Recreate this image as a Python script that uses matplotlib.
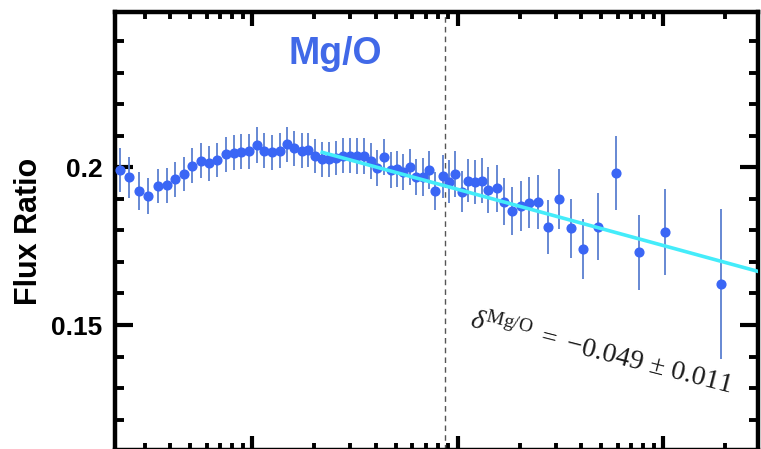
import numpy as np
import matplotlib
matplotlib.use("Agg")
import matplotlib.pyplot as plt
from matplotlib.ticker import LogLocator, MultipleLocator, NullFormatter, FixedLocator

# ---- data (rigidity in GV, Mg/O flux ratio, error) ----
rigidity = [2.27, 2.52, 2.81, 3.12, 3.47, 3.83, 4.22, 4.65, 5.11, 5.61,
            6.16, 6.76, 7.42, 8.12, 8.84, 9.61, 10.5, 11.4, 12.5, 13.6,
            14.7, 16.0, 17.4, 18.7, 20.2, 21.9, 23.7, 25.7, 27.7, 30.0,
            32.4, 35.0, 37.7, 40.6, 43.8, 47.2, 50.8, 54.3, 58.5, 62.6,
            67.5, 72.7, 77.9, 85.0, 90.6, 96.9, 104.5, 112.5, 121.2, 130.7,
            140.7, 154.6, 167.8, 184.1, 202.4, 222.8, 246.5, 275.7, 311.8, 355.5,
            408.0, 482.8, 588.8, 761.7, 1019.0, 1909.0]
ratio = [0.1991, 0.1968, 0.1925, 0.1909, 0.1941, 0.1943, 0.1962, 0.1979, 0.2005, 0.2021,
         0.2013, 0.2023, 0.2041, 0.2046, 0.2049, 0.2051, 0.2071, 0.2052, 0.2047, 0.2052,
         0.2073, 0.2060, 0.2053, 0.2055, 0.2036, 0.2025, 0.2025, 0.2029, 0.2037, 0.2037,
         0.2036, 0.2037, 0.2021, 0.1997, 0.2034, 0.1991, 0.1994, 0.1986, 0.2002, 0.1970,
         0.1968, 0.1992, 0.1925, 0.1972, 0.1954, 0.1978, 0.1923, 0.1957, 0.1952, 0.1958,
         0.1928, 0.1933, 0.1891, 0.1861, 0.1878, 0.1888, 0.1891, 0.1810, 0.1899, 0.1806,
         0.1740, 0.1812, 0.1983, 0.1730, 0.1796, 0.1629]
error = [0.0069, 0.0066, 0.0061, 0.0058, 0.0055, 0.0055, 0.0055, 0.0055, 0.0055, 0.0055,
         0.0055, 0.0055, 0.0055, 0.0055, 0.0055, 0.0055, 0.0058, 0.0055, 0.0055, 0.0055,
         0.0055, 0.0055, 0.0055, 0.0055, 0.0055, 0.0055, 0.0055, 0.0055, 0.0055, 0.0055,
         0.0057, 0.0057, 0.0057, 0.0057, 0.0057, 0.0057, 0.0057, 0.0057, 0.0057, 0.0057,
         0.0060, 0.0060, 0.0060, 0.0068, 0.0068, 0.0072, 0.0065, 0.0068, 0.0070, 0.0072,
         0.0072, 0.0075, 0.0075, 0.0077, 0.0080, 0.0082, 0.0086, 0.0086, 0.0094, 0.0092,
         0.0095, 0.0105, 0.0117, 0.0119, 0.0136, 0.0238]

# fit: ratio = fit_c0 + fit_c1 * log10(R), drawn from fit_rmin upward
fit_c0 = 0.2286
fit_c1 = -0.0178
fit_rmin = 21.9
break_rigidity = 86.7

xlim = (2.15, 2890)
ylim = (0.1104, 0.2492)

plt.rcParams['mathtext.fontset'] = 'custom'
plt.rcParams['mathtext.rm'] = 'Liberation Serif'
plt.rcParams['mathtext.it'] = 'Liberation Serif:italic'

fig = plt.figure(figsize=(7.61, 4.49), dpi=100)
ax = fig.add_axes([115/761, 1 - 450/449, (758-115)/761, (450-12)/449])

ax.errorbar(rigidity, ratio, yerr=error, fmt='o', color='#3a66f5', ms=6.3,
            ecolor='#5a7fd0', elinewidth=1.3, capsize=0, zorder=3)

xr = np.logspace(np.log10(fit_rmin), np.log10(xlim[1]), 100)
ax.plot(xr, fit_c0 + fit_c1 * np.log10(xr), color='#44ecfa', lw=2.6, zorder=4)

ax.axvline(break_rigidity, color='#555555', lw=1.0, ls=(0, (4, 3)), zorder=2)

ax.set_xscale('log')
ax.set_xlim(*xlim)
ax.set_ylim(*ylim)

ax.yaxis.set_major_locator(FixedLocator([0.15, 0.2]))
ax.yaxis.set_minor_locator(MultipleLocator(0.01))
ax.set_yticklabels(['0.15', '0.2'])
ax.xaxis.set_major_locator(LogLocator(base=10, numticks=10))
ax.xaxis.set_minor_locator(LogLocator(base=10, subs=np.arange(2, 10), numticks=20))
ax.xaxis.set_minor_formatter(NullFormatter())

ax.tick_params(axis='both', which='both', direction='in', top=True, right=True,
               labelbottom=False)
ax.tick_params(axis='y', which='major', length=13, width=3, labelsize=19, pad=9)
ax.tick_params(axis='y', which='minor', length=6.5, width=2.8)
ax.tick_params(axis='x', which='major', length=10, width=3)
ax.tick_params(axis='x', which='minor', length=5, width=2.8)
for lab in ax.get_yticklabels():
    lab.set_fontweight('bold')
    lab.set_fontfamily('Liberation Sans')

for s in ax.spines.values():
    s.set_linewidth(3.2)

ax.set_ylabel('Flux Ratio', fontsize=22, fontweight='bold', family='Liberation Sans',
              labelpad=5)

ax.text(0.342, 0.905, 'Mg/O', transform=ax.transAxes, ha='center', va='center',
        fontsize=27, fontweight='bold', color='#4169e8', family='Liberation Sans')

ax.text(601, 449 - 352,
        r'$\delta^{\rm Mg/O}\,\,=\,\,\mathit{-0.049}\,\pm\,\mathit{0.011}$',
        transform=None, ha='center', va='center', rotation=-14.3,
        rotation_mode='anchor', fontsize=20, color='#1a1a1a')

fig.savefig('out.png', dpi=100)
